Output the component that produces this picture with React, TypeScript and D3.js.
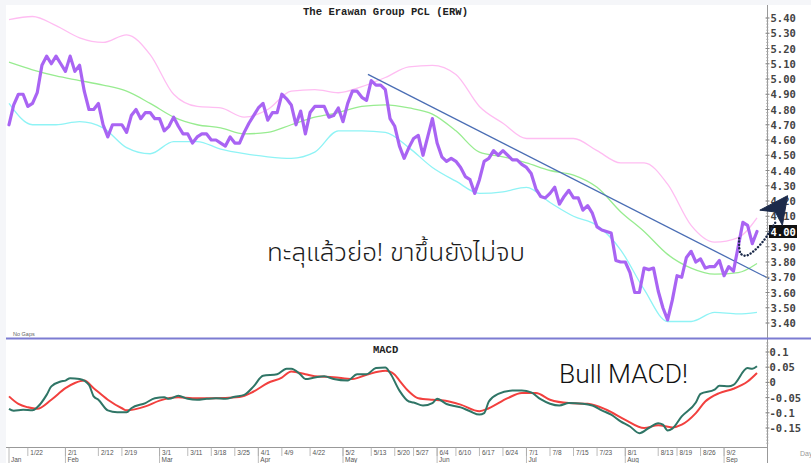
import React from "react";
import * as d3 from "d3";

const W = 811;
const H = 463;

// Daily closes (trading-day index 0..159)
const closes = [
  4.70, 4.83, 4.90, 4.90, 4.82, 4.84, 4.91, 5.09, 5.15, 5.10,
  5.15, 5.10, 5.05, 5.15, 5.05, 5.09, 4.92, 4.80, 4.80, 4.84,
  4.70, 4.62, 4.70, 4.70, 4.70, 4.65, 4.76, 4.80, 4.74, 4.78,
  4.78, 4.74, 4.74, 4.66, 4.69, 4.75, 4.69, 4.64, 4.64, 4.58,
  4.62, 4.64, 4.64, 4.60, 4.60, 4.58, 4.56, 4.62, 4.58, 4.58,
  4.65, 4.71, 4.76, 4.81, 4.84, 4.73, 4.78, 4.78, 4.90, 4.87,
  4.83, 4.70, 4.79, 4.64, 4.78, 4.82, 4.82, 4.82, 4.75, 4.76,
  4.81, 4.72, 4.84, 4.92, 4.92, 4.88, 4.86, 4.99, 4.96, 4.96,
  4.93, 4.74, 4.69, 4.56, 4.48, 4.55, 4.61, 4.63, 4.50, 4.62,
  4.74, 4.58, 4.49, 4.46, 4.48, 4.46, 4.42, 4.36, 4.34, 4.25,
  4.34, 4.46, 4.48, 4.53, 4.50, 4.53, 4.50, 4.47, 4.47, 4.44,
  4.42, 4.38, 4.28, 4.23, 4.22, 4.25, 4.29, 4.18, 4.23, 4.27,
  4.22, 4.22, 4.14, 4.17, 4.12, 4.03, 4.01, 4.00, 3.99, 3.81,
  3.80, 3.80, 3.73, 3.60, 3.60, 3.76, 3.75, 3.76, 3.61, 3.50,
  3.42, 3.55, 3.71, 3.70, 3.83, 3.87, 3.80, 3.82, 3.76, 3.77,
  3.77, 3.81, 3.71, 3.77, 3.74, 3.90, 4.06, 4.04, 3.92, 4.00,
];

// Bollinger bands sampled at these trading-day indices
const bandIdx = [0, 5, 10, 15, 20, 25, 30, 35, 40, 45, 50, 55, 60, 65, 70, 75, 80, 85, 90, 95, 100, 105, 110, 115, 120, 125, 130, 135, 140, 145, 150, 155, 159];
const upperBand = [5.39, 5.41, 5.35, 5.27, 5.24, 5.29, 5.16, 4.90, 4.82, 4.81, 4.75, 4.80, 4.92, 4.93, 4.91, 4.95, 5.01, 5.08, 5.09, 5.03, 4.82, 4.71, 4.61, 4.61, 4.61, 4.53, 4.45, 4.45, 4.31, 4.04, 3.93, 3.96, 4.09];
const middleBand = [5.11, 5.06, 5.02, 4.99, 4.96, 4.92, 4.84, 4.75, 4.70, 4.68, 4.64, 4.65, 4.70, 4.75, 4.78, 4.82, 4.83, 4.81, 4.77, 4.66, 4.52, 4.49, 4.45, 4.40, 4.37, 4.29, 4.13, 4.00, 3.85, 3.76, 3.72, 3.73, 3.79];
const lowerBand = [4.84, 4.70, 4.70, 4.72, 4.68, 4.55, 4.51, 4.59, 4.59, 4.54, 4.51, 4.49, 4.48, 4.52, 4.66, 4.66, 4.65, 4.55, 4.42, 4.33, 4.25, 4.26, 4.29, 4.19, 4.10, 4.04, 3.88, 3.62, 3.41, 3.41, 3.47, 3.46, 3.47];

// MACD line and signal line readings
const macdIdx = [0, 1, 3, 5, 6, 8, 9, 11, 12, 13, 15, 17, 18, 19, 21, 23, 25, 26, 29, 31, 33, 34, 36, 38, 40, 42, 44, 46, 48, 50, 52, 54, 57, 59, 60, 62, 63, 65, 67, 69, 72, 74, 76, 78, 80, 81, 83, 85, 86, 88, 90, 91, 93, 96, 98, 100, 101, 102, 104, 107, 109, 111, 113, 115, 117, 119, 122, 124, 126, 128, 130, 132, 134, 136, 138, 139, 140, 141, 143, 146, 147, 150, 151, 153, 154, 157, 158, 159];
const macdVals = [-0.087, -0.093, -0.090, -0.092, -0.082, -0.041, -0.013, 0.003, 0.006, 0.014, 0.011, -0.008, -0.046, -0.057, -0.092, -0.098, -0.098, -0.085, -0.068, -0.052, -0.049, -0.054, -0.044, -0.054, -0.057, -0.054, -0.052, -0.054, -0.047, -0.041, -0.013, 0.022, 0.027, 0.045, 0.045, 0.025, 0.011, 0.016, 0.020, 0.011, 0.006, 0.027, 0.027, 0.047, 0.049, 0.031, -0.027, -0.063, -0.066, -0.076, -0.068, -0.054, -0.071, -0.082, -0.095, -0.106, -0.101, -0.063, -0.038, -0.027, -0.027, -0.033, -0.055, -0.070, -0.076, -0.068, -0.070, -0.076, -0.092, -0.106, -0.128, -0.145, -0.167, -0.150, -0.134, -0.139, -0.158, -0.152, -0.112, -0.066, -0.038, -0.024, -0.011, -0.013, -0.008, 0.047, 0.045, 0.053];
const signalIdx = [0, 2, 4, 6, 9, 12, 14, 16, 18, 21, 24, 25, 29, 32, 36, 39, 43, 49, 52, 55, 58, 60, 63, 65, 69, 73, 76, 80, 82, 83, 85, 87, 90, 92, 96, 100, 102, 106, 109, 112, 115, 119, 123, 127, 131, 135, 138, 141, 143, 146, 148, 151, 154, 157, 159];
const signalVals = [-0.046, -0.071, -0.082, -0.087, -0.057, -0.019, -0.002, 0.006, -0.019, -0.057, -0.085, -0.092, -0.079, -0.060, -0.049, -0.052, -0.052, -0.048, -0.030, -0.002, 0.016, 0.036, 0.027, 0.020, 0.017, 0.011, 0.025, 0.038, 0.025, 0.006, -0.030, -0.052, -0.057, -0.059, -0.073, -0.095, -0.085, -0.052, -0.035, -0.035, -0.057, -0.068, -0.070, -0.090, -0.123, -0.150, -0.141, -0.148, -0.139, -0.101, -0.063, -0.035, -0.021, 0.003, 0.031];

// Axis ticks
const priceTicks = [3.4, 3.5, 3.6, 3.7, 3.8, 3.9, 4.0, 4.1, 4.2, 4.3, 4.4, 4.5, 4.6, 4.7, 4.8, 4.9, 5.0, 5.1, 5.2, 5.3, 5.4];
const macdTicks = [0.1, 0.05, 0, -0.05, -0.1, -0.15];
const macdTickLabels = ["0.1", "0.05", "0", "-0.05", "-0.1", "-0.15"];
const dayTickIdx = [4, 12, 19, 24, 32, 38, 43, 48, 53, 58, 64, 71, 77, 82, 86, 91, 95, 100, 105, 110, 115, 120, 125, 131, 138, 142, 147, 152];
const dayTickLabels = ["1/22", "2/1", "2/12", "2/19", "3/1", "3/11", "3/18", "3/25", "4/1", "4/9", "4/22", "5/2", "5/13", "5/20", "5/27", "6/4", "6/10", "6/17", "6/24", "7/1", "7/8", "7/15", "7/23", "8/1", "8/13", "8/19", "8/26", "9/2"];
const monthTickIdx = [0, 12, 32, 53, 71, 91, 110, 131, 152];
const monthLabels = ["Jan", "Feb", "Mar", "Apr", "May", "Jun", "Jul", "Aug", "Sep"];

// Trendline and annotation arrow (index, price)
const trendIdx = [76.3, 161.6];
const trendVals = [5.03, 3.69];
const arrowPathIdx = [155.2, 155.5, 156.6, 158.4, 160.5, 161.9, 163.0];
const arrowPathVals = [3.955, 3.857, 3.841, 3.874, 3.944, 4.010, 4.064];
const arrowHeadIdx = [165.5, 159.6, 162.9, 164.4];
const arrowHeadVals = [4.235, 4.140, 4.128, 4.040];

const lastPrice = closes[closes.length - 1];

export default function App() {
  const x = d3.scaleLinear().domain([0, closes.length - 1]).range([9, 757]);
  const yP = d3.scaleLinear().domain([3.4, 5.4]).range([323, 18]);
  const yM = d3.scaleLinear().domain([-0.15, 0.1]).range([428, 352]);

  const axisX = 767.5;

  const priceLine = d3.line<number>().x((_, i) => x(i)).y((d) => yP(d))(closes) || "";
  const bandLine = (vals: number[]) =>
    d3.line<number>().x((_, i) => x(bandIdx[i])).y((d) => yP(d)).curve(d3.curveMonotoneX)(vals) || "";
  const mLine = (idx: number[], vals: number[]) =>
    d3.line<number>().x((_, i) => x(idx[i])).y((d) => yM(d)).curve(d3.curveMonotoneX)(vals) || "";
  const arrowPath =
    d3.line<number>().x((_, i) => x(arrowPathIdx[i])).y((d) => yP(d)).curve(d3.curveCatmullRom)(arrowPathVals) || "";
  const headPts = arrowHeadVals.map((v, i) => `${x(arrowHeadIdx[i])},${yP(v)}`).join(" ");

  const minorPrice = d3.range(3.4, 5.4001, 0.02);
  const minorMacd = d3.range(-0.2, 0.1501, 0.01);

  const mono = "'DejaVu Sans Mono', monospace";

  return (
    <svg
      width={W}
      height={H}
      style={{ position: "fixed", left: 0, top: 0, display: "block" }}
      xmlns="http://www.w3.org/2000/svg"
    >
      <rect x={0} y={0} width={W} height={H} fill="#f5f6f9" />
      <rect x={6} y={5} width={W - 6} height={H - 5} fill="#ffffff" />

      {/* title */}
      <text x={303} y={15} fontFamily="'Liberation Mono', monospace" fontWeight="bold" fontSize={11} fill="#222" textLength={165} lengthAdjust="spacingAndGlyphs">
        The Erawan Group PCL (ERW)
      </text>

      {/* bands */}
      <path d={bandLine(upperBand)} fill="none" stroke="#ffbdf2" strokeWidth={1.3} />
      <path d={bandLine(middleBand)} fill="none" stroke="#98ec90" strokeWidth={1.3} />
      <path d={bandLine(lowerBand)} fill="none" stroke="#8ff3f5" strokeWidth={1.3} />

      {/* trendline */}
      <line x1={x(trendIdx[0])} y1={yP(trendVals[0])} x2={x(trendIdx[1])} y2={yP(trendVals[1])} stroke="#4a6db4" strokeWidth={1.3} />

      {/* price */}
      <path d={priceLine} fill="none" stroke="#a45cf2" strokeWidth={3.2} strokeLinejoin="round" strokeLinecap="round" opacity={0.95} />

      {/* price axis */}
      <line x1={axisX} y1={5} x2={axisX} y2={H} stroke="#999" strokeWidth={1} />
      {minorPrice.map((v, i) => (
        <line key={"mp" + i} x1={axisX - 1.5} x2={axisX + 1} y1={yP(v)} y2={yP(v)} stroke="#aaa" strokeWidth={0.8} />
      ))}
      {priceTicks.map((v) => {
        const lbl = v.toFixed(2);
        const isLast = Math.abs(v - lastPrice) < 1e-6;
        return (
          <g key={"pt" + lbl}>
            <line x1={axisX - 2} x2={axisX + 2} y1={yP(v)} y2={yP(v)} stroke="#888" strokeWidth={1} />
            {isLast && <rect x={769} y={yP(v) - 6.5} width={28} height={13} fill="#111" />}
            <text x={770.5} y={yP(v) + 4} fontFamily={mono} fontWeight="bold" fontSize={10.5} fill={isLast ? "#fff" : "#444"}>
              {lbl}
            </text>
          </g>
        );
      })}

      <text x={13} y={335.5} fontFamily="'Liberation Sans', Arial, sans-serif" fontSize={5.5} fill="#666">No Gaps</text>

      {/* separator */}
      <line x1={6} x2={W} y1={338.5} y2={338.5} stroke="#7c7cd2" strokeWidth={2.2} />

      {/* MACD */}
      <text x={373} y={353} fontFamily="'Liberation Mono', monospace" fontWeight="bold" fontSize={10.5} fill="#222">MACD</text>
      <path d={mLine(signalIdx, signalVals)} fill="none" stroke="#f2403e" strokeWidth={2} />
      <path d={mLine(macdIdx, macdVals)} fill="none" stroke="#2f7566" strokeWidth={2} />

      {minorMacd.map((v, i) =>
        yM(v) > 341 && yM(v) < 446 ? (
          <line key={"mm" + i} x1={axisX - 1.5} x2={axisX + 1} y1={yM(v)} y2={yM(v)} stroke="#aaa" strokeWidth={0.8} />
        ) : null
      )}
      {macdTicks.map((v, i) => (
        <g key={"mt" + i}>
          <line x1={axisX - 2} x2={axisX + 2} y1={yM(v)} y2={yM(v)} stroke="#888" strokeWidth={1} />
          <text x={769.5} y={yM(v) + 4} fontFamily={mono} fontWeight="bold" fontSize={10.5} fill="#444">
            {macdTickLabels[i]}
          </text>
        </g>
      ))}

      {/* x axis */}
      <line x1={6} x2={axisX} y1={447.5} y2={447.5} stroke="#999" strokeWidth={1} />
      {dayTickIdx.map((d, i) => (
        <g key={"dt" + i}>
          <line x1={x(d)} x2={x(d)} y1={447.5} y2={456} stroke="#aaa" strokeWidth={0.8} />
          <text x={x(d) + 2.5} y={454.5} fontFamily="'Liberation Sans', Arial, sans-serif" fontSize={6.5} fill="#555">
            {dayTickLabels[i]}
          </text>
        </g>
      ))}
      {monthTickIdx.map((d, i) => (
        <g key={"mo" + i}>
          <line x1={x(d)} x2={x(d)} y1={447.5} y2={H} stroke="#aaa" strokeWidth={0.8} />
          <text x={x(d) + 2} y={462} fontFamily="'Liberation Sans', Arial, sans-serif" fontSize={6.5} fill="#555">
            {monthLabels[i]}
          </text>
        </g>
      ))}
      <text x={800} y={456} fontFamily="'Liberation Sans', Arial, sans-serif" fontSize={7} fill="#999">Day</text>

      {/* annotations */}
      <text x={267} y={261} fontFamily="'Noto Sans Thai', 'Noto Sans', Roboto, sans-serif" fontWeight={300} fontSize={25} fill="#1c1c1c" textLength={258} lengthAdjust="spacingAndGlyphs">
        ทะลุแล้วย่อ! ขาขึ้นยังไม่จบ
      </text>
      <text x={559} y={383} fontFamily="Roboto, 'Noto Sans', sans-serif" fontWeight={300} fontSize={25} fill="#111" textLength={129} lengthAdjust="spacingAndGlyphs">
        Bull MACD!
      </text>

      <path d={arrowPath} fill="none" stroke="#1b2a4a" strokeWidth={2.4} strokeDasharray="0.1 3.2" strokeLinecap="round" />
      <polygon points={headPts} fill="#1b2a4a" stroke="#1b2a4a" strokeWidth={1} strokeLinejoin="miter" />
    </svg>
  );
}
